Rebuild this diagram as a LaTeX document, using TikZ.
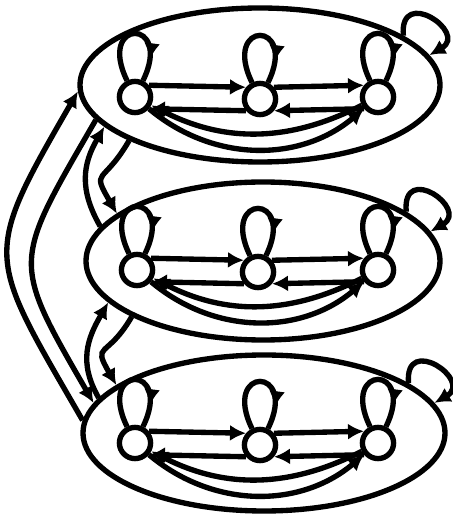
\documentclass[tikz,border=0pt]{standalone}
\usepackage{tikz}
\usetikzlibrary{arrows.meta,positioning,calc,shapes.geometric,decorations.markings}

\begin{document}
\begin{tikzpicture}[x=0.25cm, y=0.25cm, >={Latex[length=4mm,width=4mm]}, line width=3.8pt,
  superstate/.style={draw, ellipse, inner sep=0pt},
  state/.style={draw, circle, inner sep=0pt, minimum size=0.78cm},
  stateloop/.style={out=116, in=64, looseness=1, min distance=1.75cm,
    postaction={decorate}, decoration={markings, mark=at position 0.8 with {\arrow{>}}}}]
\useasboundingbox (0,0) rectangle (45.3,52.3);

% super states
\node[superstate, minimum width=9.0cm, minimum height=3.85cm] (sA) at (26.0,43.8) {};
\node[superstate, minimum width=8.85cm, minimum height=3.95cm] (sB) at (26.3,26.2) {};
\node[superstate, minimum width=9.05cm, minimum height=3.9cm] (sC) at (26.4,9.0) {};

% inner states
\node[state] (a1) at (13.5,42.6) {};
\node[state] (a2) at (26.0,42.4) {};
\node[state] (a3) at (37.8,42.6) {};
\node[state] (b1) at (13.7,25.3) {};
\node[state] (b2) at (25.8,25.1) {};
\node[state] (b3) at (37.8,25.3) {};
\node[state] (c1) at (13.5,8.0) {};
\node[state] (c2) at (26.0,7.8) {};
\node[state] (c3) at (37.8,8.0) {};

% transitions inside each super state
\foreach \r in {a,b,c} {
  \draw[stateloop] (\r1) to (\r1);
  \draw[stateloop] (\r2) to (\r2);
  \draw[stateloop] (\r3) to (\r3);
  \draw[->] (\r1.40) -- (\r2.140);
  \draw[->] (\r2.40) -- (\r3.140);
  \draw[->] (\r2.220) -- (\r1.320);
  \draw[->] (\r3.220) -- (\r2.320);
  \draw[->] (\r1) to[bend right=40] (\r3);
  \draw[->] (\r3) to[bend left=27] (\r1);
}

% self loops of the super states
\draw[->] (sA.19) .. controls +(95:5) and +(30:4.5) .. (sA.10);
\draw[->] (sB.19) .. controls +(95:5) and +(30:4.5) .. (sB.10);
\draw[->] (sC.19) .. controls +(95:5) and +(30:4.5) .. (sC.10);

% transitions between super states
\draw[->] (sB.168) to[out=120, in=240, looseness=1.1] (sA.195);
\draw[->] (sA.203) to[out=240, in=120, looseness=1.8] (sB.162);
\draw[->] (sC.168) to[out=120, in=240, looseness=1.1] (sB.195);
\draw[->] (sB.203) to[out=240, in=120, looseness=1.8] (sC.162);
\draw[->] (sC.176) to[out=120, in=240, looseness=1.5] (sA.182);
\draw[->] (sA.192) to[out=240, in=120, looseness=1.5] (sC.170);
\end{tikzpicture}
\end{document}
